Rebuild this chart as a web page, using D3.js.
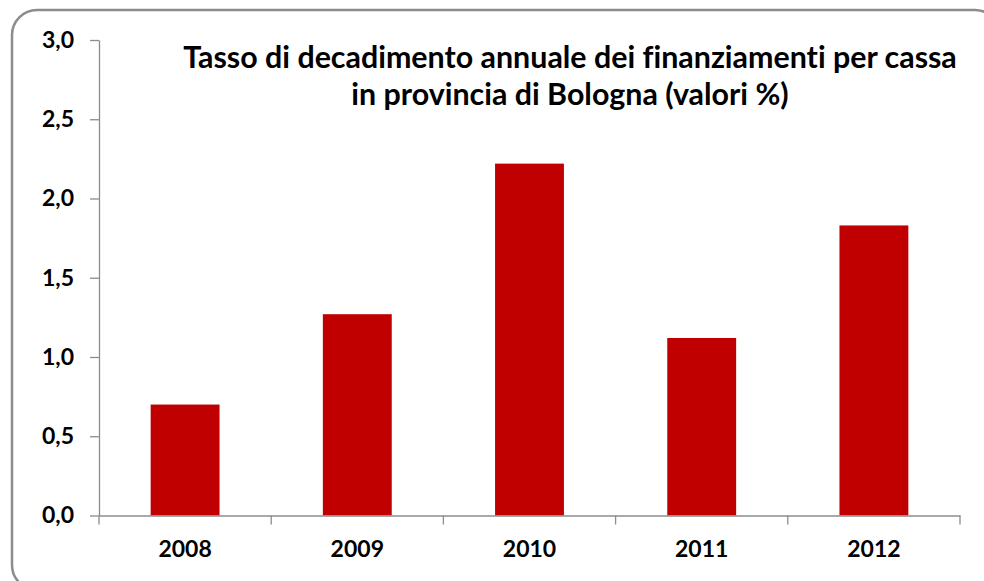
<!DOCTYPE html>
<html>
<head>
<meta charset="utf-8">
<script src="https://cdn.jsdelivr.net/npm/d3@7.9.0/dist/d3.min.js"></script>
<style>
  html, body { margin: 0; padding: 0; background: #fff; }
  svg { display: block; }
  svg text { font-family: Lato, "Open Sans", sans-serif; font-variant-ligatures: none; }
</style>
</head>
<body>
<svg id="chart" width="984" height="581"></svg>
<script>
// Data
const years = ['2008', '2009', '2010', '2011', '2012'];
const rates = [0.70, 1.27, 2.22, 1.12, 1.83];
const yTicks = [0, 0.5, 1.0, 1.5, 2.0, 2.5, 3.0];
const titleLines = [
  'Tasso di decadimento annuale dei finanziamenti per cassa',
  'in provincia di Bologna (valori %)'
];

const svg = d3.select('#chart');
const plotLeft = 99, plotRight = 960, plotTop = 40, plotBottom = 515.5;

// Rounded frame
svg.append('rect')
  .attr('x', 12).attr('y', 10)
  .attr('width', 988).attr('height', 580)
  .attr('rx', 25).attr('ry', 25)
  .attr('fill', '#fff')
  .attr('stroke', '#8c8c8c')
  .attr('stroke-width', 2.5);

// Scales
const x = d3.scaleBand()
  .domain(years)
  .range([plotLeft, plotRight])
  .paddingInner(0.6)
  .paddingOuter(0.3);

const y = d3.scaleLinear()
  .domain([0, 3])
  .range([plotBottom, plotTop]);

const fmt = d => d3.format('.1f')(d).replace('.', ',');

// Y axis
const yAxis = svg.append('g')
  .attr('transform', `translate(${plotLeft},0)`)
  .call(d3.axisLeft(y).tickValues(yTicks).tickFormat(fmt).tickSize(9).tickSizeOuter(0).tickPadding(16));
yAxis.attr('font-family', null).attr('font-size', null);
yAxis.select('.domain').attr('stroke', '#8c8c8c').attr('stroke-width', 1.3);
yAxis.selectAll('.tick line').attr('stroke', '#8c8c8c').attr('stroke-width', 1.3);
yAxis.selectAll('.tick text')
  .attr('fill', '#000')
  .style('font-size', '23px')
  .style('font-weight', 'bold');

// Bars
svg.append('g')
  .selectAll('rect')
  .data(rates)
  .join('rect')
  .attr('x', (d, i) => x(years[i]))
  .attr('y', d => y(d))
  .attr('width', x.bandwidth())
  .attr('height', d => y(0) - y(d))
  .attr('fill', '#c00000');

// X axis: labels centred on bands, ticks on band boundaries
const xAxis = svg.append('g')
  .attr('transform', `translate(0,${plotBottom})`)
  .call(d3.axisBottom(x).tickSize(0).tickPadding(25));
xAxis.attr('font-family', null).attr('font-size', null);
xAxis.select('.domain').attr('stroke', '#8c8c8c').attr('stroke-width', 1.3);
xAxis.selectAll('.tick text')
  .attr('fill', '#000')
  .style('font-size', '23px')
  .style('font-weight', 'bold');

const bounds = d3.range(years.length + 1).map(i => plotLeft + i * x.step());
xAxis.selectAll('line.bound')
  .data(bounds)
  .join('line')
  .attr('class', 'bound')
  .attr('x1', d => d).attr('x2', d => d)
  .attr('y1', 0).attr('y2', 9)
  .attr('stroke', '#8c8c8c')
  .attr('stroke-width', 1.3);

// Title, sized to fit the reference width of the first line
const title = svg.append('text')
  .attr('text-anchor', 'middle')
  .attr('fill', '#000')
  .style('font-weight', 'bold')
  .style('font-size', '28px');
title.selectAll('tspan')
  .data(titleLines)
  .join('tspan')
  .attr('x', 570)
  .attr('y', (d, i) => 68 + i * 37)
  .text(d => d);
const w = title.select('tspan').node().getComputedTextLength();
title.style('font-size', (28 * 774 / w) + 'px');
</script>
</body>
</html>
